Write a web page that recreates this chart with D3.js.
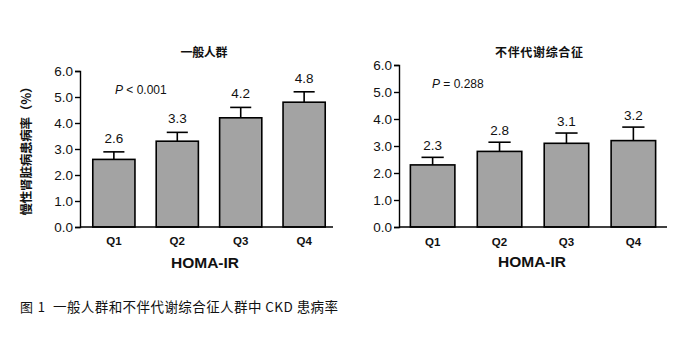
<!DOCTYPE html>
<html><head><meta charset="utf-8">
<script src="https://cdn.jsdelivr.net/npm/d3@7"></script>
<style>
body{margin:0;background:#fff;}
svg{display:block;}
</style></head>
<body>
<svg id="c" width="677" height="342"></svg>
<script>
const categories = ["Q1","Q2","Q3","Q4"];
const yTicks = [0,1,2,3,4,5,6];
const valuesGeneral = [2.6, 3.3, 4.2, 4.8];
const errUpperGeneral = [2.89, 3.64, 4.6, 5.2];
const valuesNoMetS = [2.3, 2.8, 3.1, 3.2];
const errUpperNoMetS = [2.58, 3.14, 3.48, 3.7];
const titles = ["一般人群", "不伴代谢综合征"];
const pTexts = [["P", " < 0.001"], ["P", " = 0.288"]];
const xTitle = "HOMA-IR";
const yTitle = "慢性肾脏病患病率（%）";
const captionParts = ["图 1", "一般人群和不伴代谢综合征人群中 CKD 患病率"];

const svg = d3.select("#c");
const latin = "'Liberation Sans', Arial, sans-serif";
const cjk = "'Noto Sans CJK SC', 'Liberation Sans', sans-serif";

const panels = [
  {vals: valuesGeneral, err: errUpperGeneral, title: titles[0], p: pTexts[0],
   axX0: 80, axX1: 333, yTop: 71, yBot: 227, bandR: [82, 336], titleX: 204, titleY: 57, titleLen: 47,
   pX: 115, pY: 94, labelGap: 9, qY: 245, hX: 205, hY: 268},
  {vals: valuesNoMetS, err: errUpperNoMetS, title: titles[1], p: pTexts[1],
   axX0: 399, axX1: 667, yTop: 65, yBot: 227, bandR: [399, 667], titleX: 539, titleY: 57, titleLen: 88,
   pX: 432, pY: 88, labelGap: 7, qY: 246, hX: 532, hY: 267}
];

panels.forEach(pn => {
  const g = svg.append("g");
  const y = d3.scaleLinear().domain([0, 6]).range([pn.yBot, pn.yTop]);
  const x = d3.scaleBand().domain(categories).range(pn.bandR).paddingInner(0.335).paddingOuter(0.17);

  g.selectAll("rect.bar").data(categories).enter().append("rect")
    .attr("x", d => x(d)).attr("width", x.bandwidth())
    .attr("y", (d, i) => y(pn.vals[i])).attr("height", (d, i) => y(0) - y(pn.vals[i]))
    .attr("fill", "#a3a3a3").attr("stroke", "#000").attr("stroke-width", 1.6);

  const cap = x.bandwidth() * 0.5;
  categories.forEach((d, i) => {
    const cx = x(d) + x.bandwidth() / 2;
    g.append("line").attr("x1", cx).attr("x2", cx).attr("y1", y(pn.vals[i])).attr("y2", y(pn.err[i]))
      .attr("stroke", "#000").attr("stroke-width", 1.6);
    g.append("line").attr("x1", cx - cap / 2).attr("x2", cx + cap / 2).attr("y1", y(pn.err[i])).attr("y2", y(pn.err[i]))
      .attr("stroke", "#000").attr("stroke-width", 1.6);
    g.append("text").attr("x", cx).attr("y", y(pn.err[i]) - pn.labelGap)
      .attr("text-anchor", "middle").attr("font-family", latin).attr("font-size", 13.5)
      .attr("fill", "#111").text(pn.vals[i].toFixed(1));
    g.append("text").attr("x", cx).attr("y", pn.qY)
      .attr("text-anchor", "middle").attr("font-family", latin).attr("font-size", 11.5)
      .attr("font-weight", "bold").attr("fill", "#111").text(d);
  });

  const yAxis = d3.axisLeft(y).tickValues(yTicks).tickFormat(d3.format(".1f")).tickSize(5).tickPadding(2);
  const ya = g.append("g").attr("transform", `translate(${pn.axX0},0)`).call(yAxis);
  ya.select(".domain").attr("stroke", "#000").attr("stroke-width", 1.4);
  ya.selectAll(".tick line").attr("stroke", "#000").attr("stroke-width", 1.4);
  ya.selectAll(".tick text").attr("font-family", latin).attr("font-size", 13.5).attr("fill", "#111");

  g.append("line").attr("x1", pn.axX0).attr("x2", pn.axX1).attr("y1", y(0)).attr("y2", y(0))
    .attr("stroke", "#000").attr("stroke-width", 1.4);

  g.append("text").attr("x", pn.titleX).attr("y", pn.titleY).attr("text-anchor", "middle")
    .attr("font-family", cjk).attr("font-size", 12).attr("font-weight", "bold").attr("fill", "#111")
    .attr("textLength", pn.titleLen).attr("lengthAdjust", "spacing").text(pn.title);

  const pt = g.append("text").attr("x", pn.pX).attr("y", pn.pY)
    .attr("font-family", latin).attr("font-size", 12).attr("fill", "#111");
  pt.append("tspan").attr("font-style", "italic").text(pn.p[0]);
  pt.append("tspan").text(pn.p[1]);

  g.append("text").attr("x", pn.hX).attr("y", pn.hY).attr("text-anchor", "middle")
    .attr("font-family", latin).attr("font-size", 15.5).attr("font-weight", "bold").attr("fill", "#111").text(xTitle);
});

svg.append("text").attr("transform", "translate(31,148) rotate(-90)").attr("text-anchor", "middle")
  .attr("font-family", cjk).attr("font-size", 12.5).attr("font-weight", "bold").attr("fill", "#111")
  .attr("textLength", 135).attr("lengthAdjust", "spacing").text(yTitle);

svg.append("text").attr("x", 20).attr("y", 312).attr("font-family", cjk).attr("font-size", 13)
  .attr("fill", "#111").attr("textLength", 25).attr("lengthAdjust", "spacing").text(captionParts[0]);
svg.append("text").attr("x", 53).attr("y", 312).attr("font-family", cjk).attr("font-size", 13.5)
  .attr("fill", "#111").attr("textLength", 285).attr("lengthAdjust", "spacing").text(captionParts[1]);
</script>
</body></html>
